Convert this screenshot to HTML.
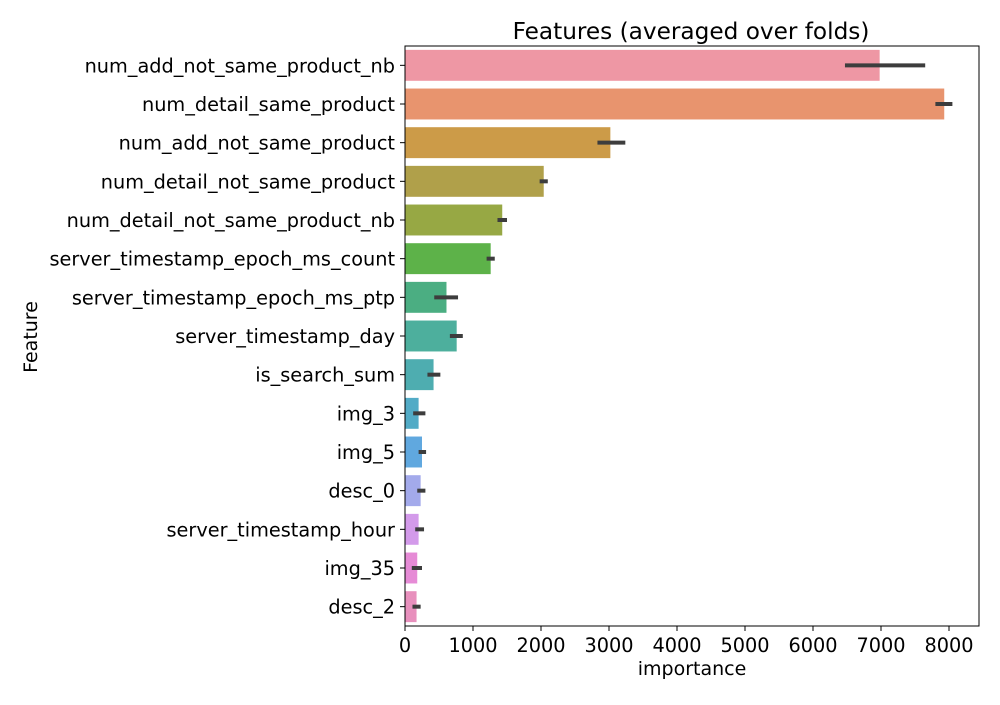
<!DOCTYPE html>
<html><head><meta charset="utf-8"><style>
body{margin:0;background:#fff;font-family:"Liberation Sans","DejaVu Sans",sans-serif}
svg text{font-family:"DejaVu Sans","Liberation Sans",sans-serif}
</style></head><body>
<svg id="chart" width="1000" height="700">
<text x="691" y="39" font-size="23.2" text-anchor="middle">Features (averaged over folds)</text>
<g id="bars"></g>
<g id="yticks"></g>
<g id="xticks"></g>
<rect x="405" y="46" width="574" height="580" fill="none" stroke="#000" stroke-width="1"/>
<text x="692" y="675" font-size="19" text-anchor="middle">importance</text>
<text transform="translate(37,337) rotate(-90)" font-size="19" text-anchor="middle">Feature</text>
</svg>
<script>
const features=["num_add_not_same_product_nb","num_detail_same_product","num_add_not_same_product","num_detail_not_same_product","num_detail_not_same_product_nb","server_timestamp_epoch_ms_count","server_timestamp_epoch_ms_ptp","server_timestamp_day","is_search_sum","img_3","img_5","desc_0","server_timestamp_hour","img_35","desc_2"];
const importance=[6980,7930,3020,2040,1430,1260,610,760,420,200,250,230,200,180,170];
const errLow=[6470,7800,2830,1980,1360,1200,430,660,330,120,200,180,150,100,110];
const errHigh=[7650,8050,3240,2100,1500,1320,780,850,520,300,310,300,280,250,230];
const xTicks=[0,1000,2000,3000,4000,5000,6000,7000,8000];
const colors=["#ee97a4","#e8946e","#cc9b48","#b0a04a","#97a844","#5db249","#4bae82","#4daf9d","#4eadb0","#52abc6","#60a8df","#a3aaeb","#d39aea","#e68bd6","#e890bd"];
const NS="http://www.w3.org/2000/svg";
const x=v=>405+v*0.068;
const step=580/features.length;
const yc=i=>46+step*(i+0.5);
const bh=step*0.8;
function mk(t,a,p){const e=document.createElementNS(NS,t);for(const k in a)e.setAttribute(k,a[k]);p.appendChild(e);return e;}
const gb=document.getElementById('bars'),gy=document.getElementById('yticks'),gx=document.getElementById('xticks');
features.forEach((f,i)=>{
 const r=mk('rect',{x:x(0),y:yc(i)-bh/2,width:x(importance[i])-x(0),height:bh,fill:colors[i]},gb);
 
 
 const l=mk('line',{x1:x(errLow[i]),x2:x(errHigh[i]),y1:yc(i),y2:yc(i),stroke:'#3d3d3d','stroke-width':4},gb);
 
 
 mk('line',{x1:400,x2:405,y1:yc(i),y2:yc(i),stroke:'#000'},gy);
 const t=mk('text',{x:395,y:yc(i)+7,'font-size':19.3,'text-anchor':'end'},gy);
 t.textContent=f;
 
 
});
xTicks.forEach(v=>{
 mk('line',{x1:x(v),x2:x(v),y1:626,y2:631,stroke:'#000'},gx);
 const t=mk('text',{x:x(v),y:652,'font-size':19.3,'text-anchor':'middle'},gx);
 t.textContent=v;
 
 
});
</script>
</body></html>
